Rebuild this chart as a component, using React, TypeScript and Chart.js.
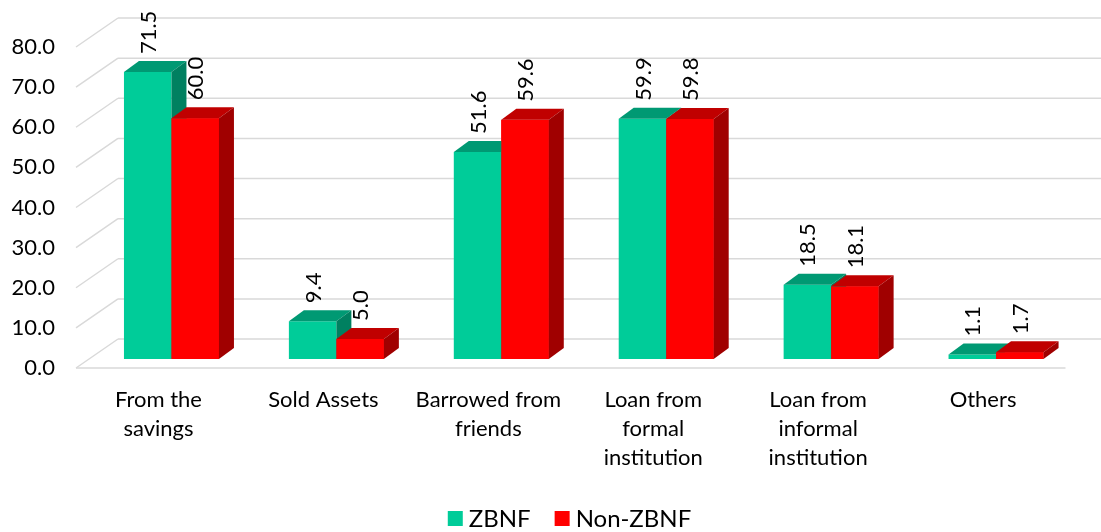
import React, { useEffect, useRef } from "react";
import { Chart, registerables } from "chart.js";

Chart.register(...registerables);

const categories: string[][] = [
  ["From the", "savings"],
  ["Sold Assets"],
  ["Barrowed from", "friends"],
  ["Loan from", "formal", "institution"],
  ["Loan from", "informal", "institution"],
  ["Others"],
];
const zbnf: number[] = [71.5, 9.4, 51.6, 59.9, 18.5, 1.1];
const nonZbnf: number[] = [60.0, 5.0, 59.6, 59.8, 18.1, 1.7];
const seriesNames: string[] = ["ZBNF", "Non-ZBNF"];
const yTicks = { min: 0, max: 80, step: 10 };

const FONT = "Lato, 'Open Sans', sans-serif";
const FRONT = ["#00CC99", "#FF0000"];
const TOP = ["#009973", "#C00000"];
const SIDE = ["#008060", "#A00000"];

const BACK_DX = 29, BACK_DY = -20;
const FLOOR_DX = -13, FLOOR_DY = 9;
const DEPTH_DX = 15, DEPTH_DY = -11;

const zeroPad = (s: any) => {
  s.paddingTop = 0;
  s.paddingBottom = 0;
  s.paddingLeft = 0;
  s.paddingRight = 0;
};

const threeD = {
  id: "threeD",
  beforeDatasetsDraw(chart: any) {
    const { ctx, chartArea } = chart;
    const y = chart.scales.y;
    ctx.save();
    ctx.strokeStyle = "#D9D9D9";
    ctx.lineWidth = 1.5;
    for (const t of y.ticks) {
      const py = y.getPixelForValue(t.value);
      ctx.beginPath();
      ctx.moveTo(chartArea.left + BACK_DX, py + BACK_DY);
      ctx.lineTo(chart.width, py + BACK_DY);
      ctx.moveTo(chartArea.left + FLOOR_DX, py + FLOOR_DY);
      ctx.lineTo(chartArea.left + BACK_DX, py + BACK_DY);
      ctx.stroke();
    }
    const p0 = y.getPixelForValue(0);
    ctx.beginPath();
    ctx.moveTo(chartArea.left + FLOOR_DX, p0 + FLOOR_DY);
    ctx.lineTo(chartArea.right + FLOOR_DX, p0 + FLOOR_DY);
    ctx.stroke();
    ctx.restore();
  },
  afterDatasetsDraw(chart: any) {
    const { ctx } = chart;
    const metas = chart.data.datasets.map((_: any, i: number) => chart.getDatasetMeta(i));
    const n = chart.data.labels.length;
    ctx.save();
    for (let j = 0; j < n; j++) {
      metas.forEach((meta: any, i: number) => {
        const el = meta.data[j];
        if (!el) return;
        const { x, y, base, width } = el.getProps(["x", "y", "base", "width"], true);
        const l = x - width / 2;
        const r = x + width / 2;
        if (i > 0) {
          ctx.fillStyle = FRONT[i];
          ctx.fillRect(l, y, width, base - y);
        }
        ctx.fillStyle = TOP[i];
        ctx.beginPath();
        ctx.moveTo(l, y);
        ctx.lineTo(l + DEPTH_DX, y + DEPTH_DY);
        ctx.lineTo(r + DEPTH_DX, y + DEPTH_DY);
        ctx.lineTo(r, y);
        ctx.closePath();
        ctx.fill();
        ctx.fillStyle = SIDE[i];
        ctx.beginPath();
        ctx.moveTo(r, y);
        ctx.lineTo(r + DEPTH_DX, y + DEPTH_DY);
        ctx.lineTo(r + DEPTH_DX, base + DEPTH_DY);
        ctx.lineTo(r, base);
        ctx.closePath();
        ctx.fill();
      });
    }
    ctx.fillStyle = "#000";
    ctx.font = `22px ${FONT}`;
    ctx.textAlign = "left";
    ctx.textBaseline = "middle";
    metas.forEach((meta: any, i: number) => {
      const values = chart.data.datasets[i].data as number[];
      meta.data.forEach((el: any, j: number) => {
        const { x, y } = el.getProps(["x", "y"], true);
        ctx.save();
        ctx.translate(x + 1, y + DEPTH_DY - 7);
        ctx.rotate(-Math.PI / 2);
        ctx.fillText(values[j].toFixed(1), 0, 0);
        ctx.restore();
      });
    });
    ctx.restore();
  },
  afterDraw(chart: any) {
    const { ctx } = chart;
    const ds = chart.data.datasets;
    ctx.save();
    ctx.font = `24px ${FONT}`;
    ctx.textBaseline = "middle";
    ctx.textAlign = "left";
    const box = 15, gapText = 6, gapItem = 24;
    const widths = ds.map((d: any) => box + gapText + ctx.measureText(d.label).width);
    const total = widths.reduce((a: number, b: number) => a + b, 0) + gapItem * (ds.length - 1);
    let x = 569.5 - total / 2;
    const cy = 518.5;
    ds.forEach((d: any, i: number) => {
      ctx.fillStyle = d.backgroundColor;
      ctx.fillRect(x, cy - box / 2, box, box);
      ctx.fillStyle = "#000";
      ctx.fillText(d.label, x + box + gapText, cy + 1);
      x += widths[i] + gapItem;
    });
    ctx.restore();
  },
};

export default function App() {
  const ref = useRef<HTMLCanvasElement>(null);
  useEffect(() => {
    document.body.style.margin = "0";
    const chart = new Chart(ref.current!, {
      type: "bar",
      data: {
        labels: categories,
        datasets: [
          { label: seriesNames[0], data: zbnf, backgroundColor: FRONT[0], borderWidth: 0 },
          { label: seriesNames[1], data: nonZbnf, backgroundColor: FRONT[1], borderWidth: 0 },
        ],
      },
      options: {
        responsive: false,
        animation: false,
        events: [],
        layout: { padding: { left: 0, right: 22.5, top: 38, bottom: 32 } },
        datasets: { bar: { categoryPercentage: 0.576, barPercentage: 1 } },
        plugins: {
          tooltip: { enabled: false },
          legend: { display: false },
        },
        scales: {
          x: {
            grid: { display: false, drawTicks: false },
            border: { display: false },
            ticks: {
              color: "#000",
              font: { family: FONT, size: 22, lineHeight: 1.33 },
              labelOffset: FLOOR_DX,
              padding: 26,
              maxRotation: 0,
              autoSkip: false,
            },
            afterFit: (s: any) => {
              s.height = 141;
              zeroPad(s);
            },
          },
          y: {
            min: yTicks.min,
            max: yTicks.max,
            grid: { display: false, drawTicks: false },
            border: { display: false },
            ticks: {
              stepSize: yTicks.step,
              color: "#000",
              font: { family: FONT, size: 22 },
              labelOffset: FLOOR_DY,
              padding: 34,
              callback: (v: any) => Number(v).toFixed(1),
            },
            afterFit: (s: any) => {
              s.width = 89;
              zeroPad(s);
            },
          },
        },
      },
      plugins: [threeD],
    });
    return () => chart.destroy();
  }, []);
  return (
    <div style={{ width: 1101, height: 532 }}>
      <canvas ref={ref} width={1101} height={532} />
    </div>
  );
}
